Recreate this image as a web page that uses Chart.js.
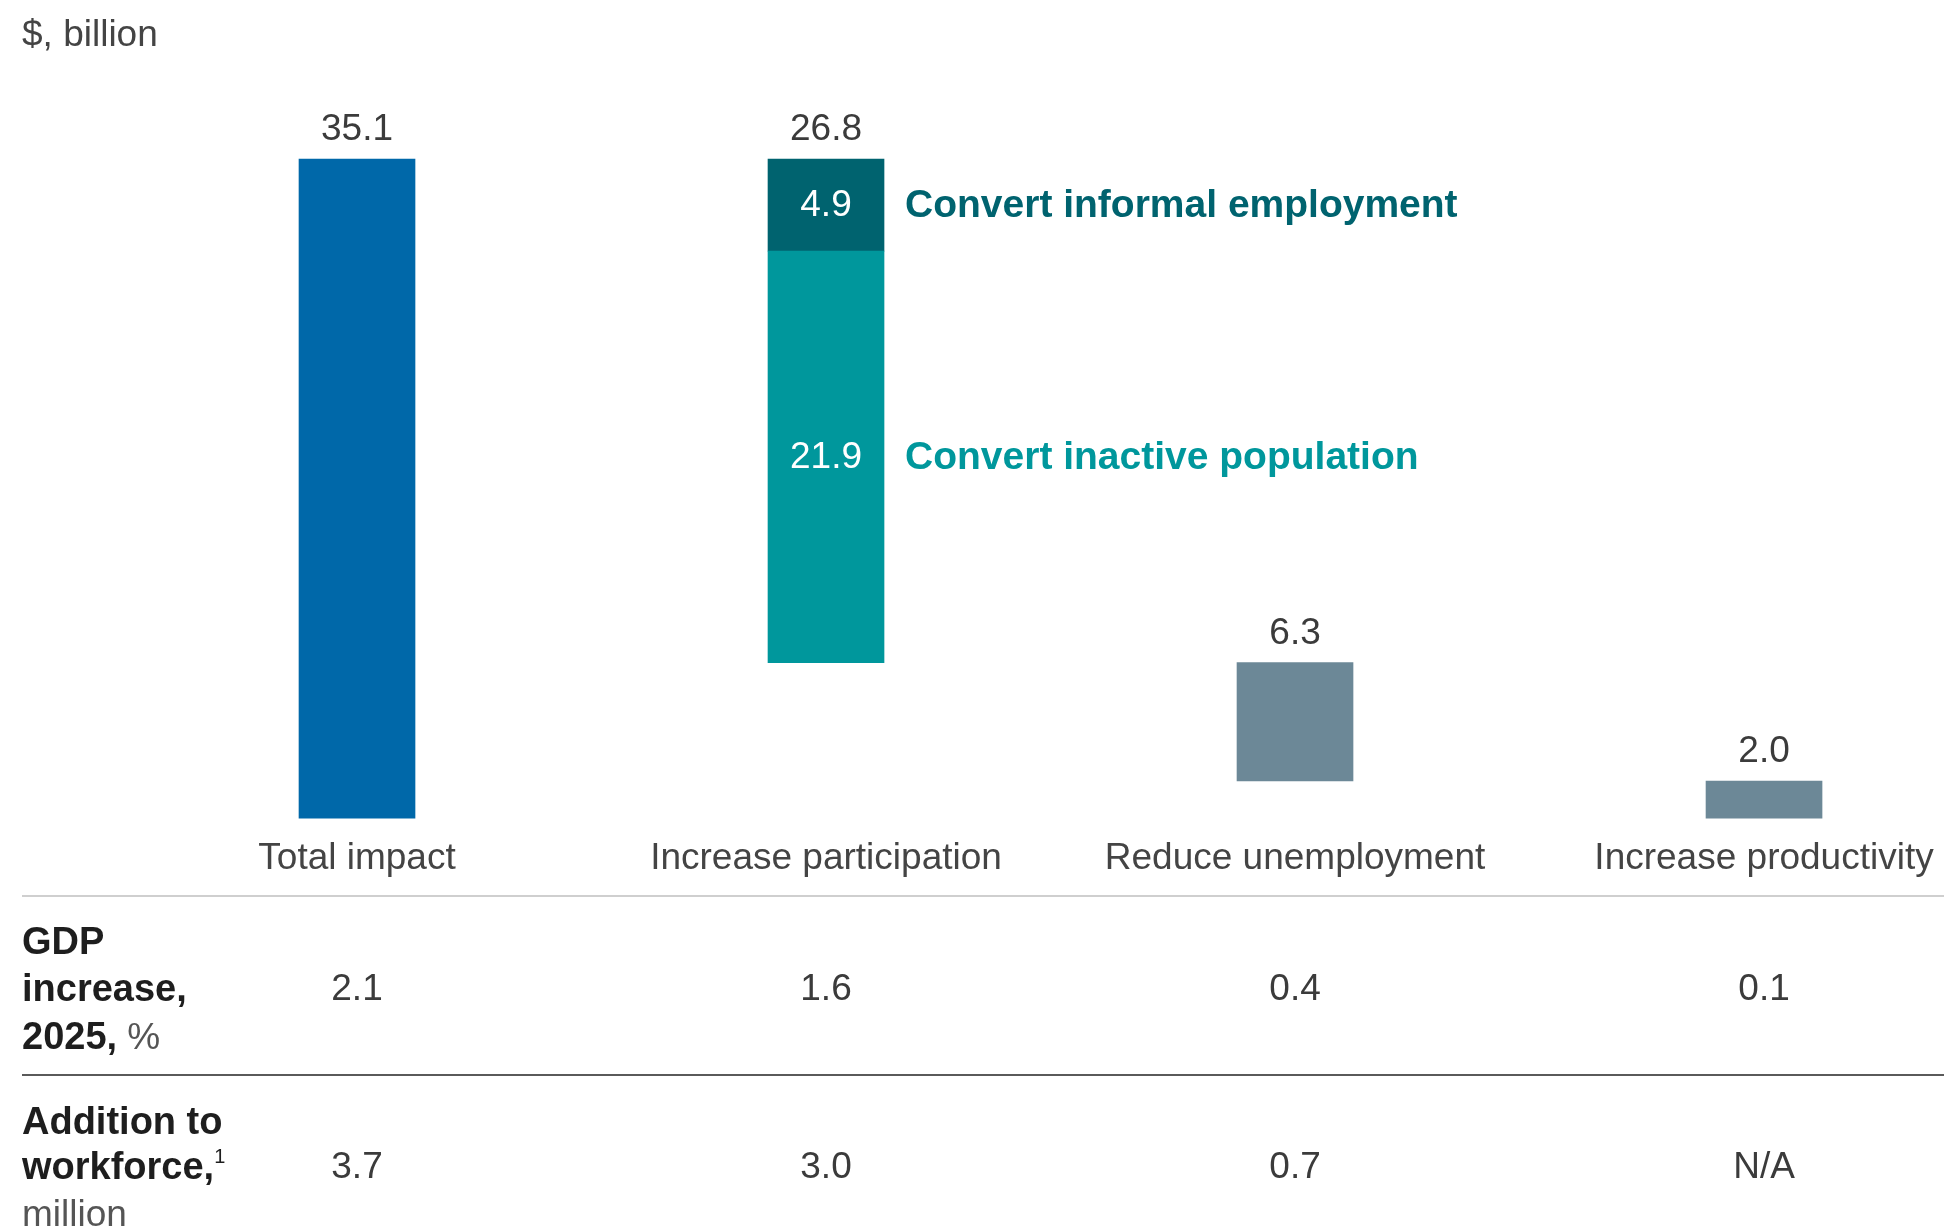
<!DOCTYPE html>
<html>
<head>
<meta charset="utf-8">
<script src="https://cdn.jsdelivr.net/npm/chart.js@4.4.1/dist/chart.umd.min.js"></script>
<style>
  html, body { margin: 0; padding: 0; background: #ffffff; overflow: hidden; }
  #wrap { position: absolute; left: 0; top: 0; width: 1944px; height: 1227px; }
</style>
</head>
<body>
<div id="wrap"><canvas id="c" width="1944" height="1227"></canvas></div>
<script>
// ---- data ----
const unitLabel = '$, billion';
const categories = ['Total impact', 'Increase participation', 'Reduce unemployment', 'Increase productivity'];
const barValues = [35.1, 26.8, 6.3, 2.0];
const participationSegments = [21.9, 4.9];
const segmentNames = ['Convert inactive population', 'Convert informal employment'];
const gdpIncrease = ['2.1', '1.6', '0.4', '0.1'];
const workforceAddition = ['3.7', '3.0', '0.7', 'N/A'];

// ---- waterfall ranges built from the values ----
const r1 = v => Math.round(v * 10) / 10;
const tops = [barValues[0]];
const bottoms = [0];
let level = barValues[0];
for (let i = 1; i < barValues.length; i++) {
  tops[i] = level;
  bottoms[i] = Math.max(0, r1(level - barValues[i]));
  level = bottoms[i];
}
const inactiveTop = r1(bottoms[1] + participationSegments[0]);

const FONT = '"Liberation Sans", Arial, Helvetica, sans-serif';
const C_BLUE = '#0068a9';
const C_TEAL = '#00979c';
const C_DARKTEAL = '#00636f';
const C_GREY = '#6c8897';
const C_TEXT = '#3b3b3b';

const annot = {
  id: 'annot',
  afterDatasetsDraw(chart) {
    const { ctx, scales: { x, y } } = chart;
    ctx.save();
    // unit label
    ctx.font = '37px ' + FONT;
    ctx.fillStyle = '#444';
    ctx.textAlign = 'left';
    ctx.textBaseline = 'middle';
    ctx.fillText(unitLabel, 22, 36);

    // value labels above bars
    ctx.textAlign = 'center';
    ctx.fillStyle = C_TEXT;
    barValues.forEach((v, i) => {
      ctx.fillText(v.toFixed(1), x.getPixelForValue(i), y.getPixelForValue(tops[i]) - 29);
    });

    // segment labels
    const segColors = [C_TEAL, C_DARKTEAL];
    let lo = bottoms[1];
    participationSegments.forEach((s, k) => {
      const hi = r1(lo + s);
      const cy = (y.getPixelForValue(lo) + y.getPixelForValue(hi)) / 2 + 1;
      const cx = x.getPixelForValue(1);
      ctx.textAlign = 'center';
      ctx.font = '37px ' + FONT;
      ctx.fillStyle = '#ffffff';
      ctx.fillText(s.toFixed(1), cx, cy);
      ctx.textAlign = 'left';
      ctx.font = 'bold 39px ' + FONT;
      ctx.fillStyle = segColors[k];
      ctx.fillText(segmentNames[k], cx + 79, cy);
      lo = hi;
    });

    // table
    const W = chart.width;
    ctx.lineWidth = 2;
    ctx.strokeStyle = '#cfcfcf';
    ctx.beginPath(); ctx.moveTo(22, 896); ctx.lineTo(W, 896); ctx.stroke();
    ctx.strokeStyle = '#5a5a5a';
    ctx.beginPath(); ctx.moveTo(22, 1075); ctx.lineTo(W, 1075); ctx.stroke();

    const drawParts = (parts, px, py) => {
      let cx = px;
      parts.forEach(p => {
        if (p[1] === 'b') { ctx.font = 'bold 38px ' + FONT; ctx.fillStyle = '#1e1e1e'; }
        else if (p[1] === 'sup') { ctx.font = '20px ' + FONT; ctx.fillStyle = '#1e1e1e'; }
        else { ctx.font = '37px ' + FONT; ctx.fillStyle = '#555'; }
        ctx.textAlign = 'left';
        ctx.fillText(p[0], cx, p[1] === 'sup' ? py - 12 : py);
        cx += ctx.measureText(p[0]).width;
      });
    };
    const rows = [
      { lines: [[['GDP', 'b']], [['increase,', 'b']], [['2025,', 'b'], [' %', 'r']]], ys: [944, 991, 1039], vy: 990, vals: gdpIncrease },
      { lines: [[['Addition to', 'b']], [['workforce,', 'b'], ['1', 'sup']], [['million', 'r']]], ys: [1124, 1169, 1216], vy: 1168, vals: workforceAddition }
    ];
    rows.forEach(r => {
      r.lines.forEach((ln, k) => drawParts(ln, 22, r.ys[k]));
      ctx.font = '37px ' + FONT;
      ctx.fillStyle = C_TEXT;
      ctx.textAlign = 'center';
      r.vals.forEach((v, i) => ctx.fillText(v, x.getPixelForValue(i), r.vy));
    });
    ctx.restore();
  }
};

new Chart(document.getElementById('c'), {
  type: 'bar',
  data: {
    datasets: [
      { label: categories[0], data: [{ x: 0, y: [bottoms[0], tops[0]] }], backgroundColor: C_BLUE },
      { label: segmentNames[0], data: [{ x: 1, y: [bottoms[1], inactiveTop] }], backgroundColor: C_TEAL },
      { label: segmentNames[1], data: [{ x: 1, y: [inactiveTop, tops[1]] }], backgroundColor: C_DARKTEAL },
      { label: 'Other levers', data: [{ x: 2, y: [bottoms[2], tops[2]] }, { x: 3, y: [bottoms[3], tops[3]] }], backgroundColor: C_GREY }
    ]
  },
  options: {
    responsive: false,
    animation: false,
    datasets: { bar: { grouped: false, barThickness: 116, borderWidth: 0 } },
    layout: { padding: { top: 67, left: 0, right: 20, bottom: 346 } },
    plugins: { legend: { display: false }, tooltip: { enabled: false } },
    scales: {
      x: {
        type: 'linear',
        min: -0.7612,
        max: 3.3411,
        offset: false,
        grid: { display: true, drawOnChartArea: false, drawTicks: true, tickLength: 18, color: 'rgba(0,0,0,0)' },
        border: { display: false },
        afterBuildTicks: s => { s.ticks = categories.map((c, i) => ({ value: i })); },
        ticks: {
          autoSkip: false, maxRotation: 0, minRotation: 0, padding: 0,
          color: '#444',
          font: { family: FONT, size: 37 },
          callback: v => categories[v] !== undefined ? categories[v] : ''
        }
      },
      y: { display: false, min: 0, max: 40 }
    }
  },
  plugins: [annot]
});
</script>
</body>
</html>
